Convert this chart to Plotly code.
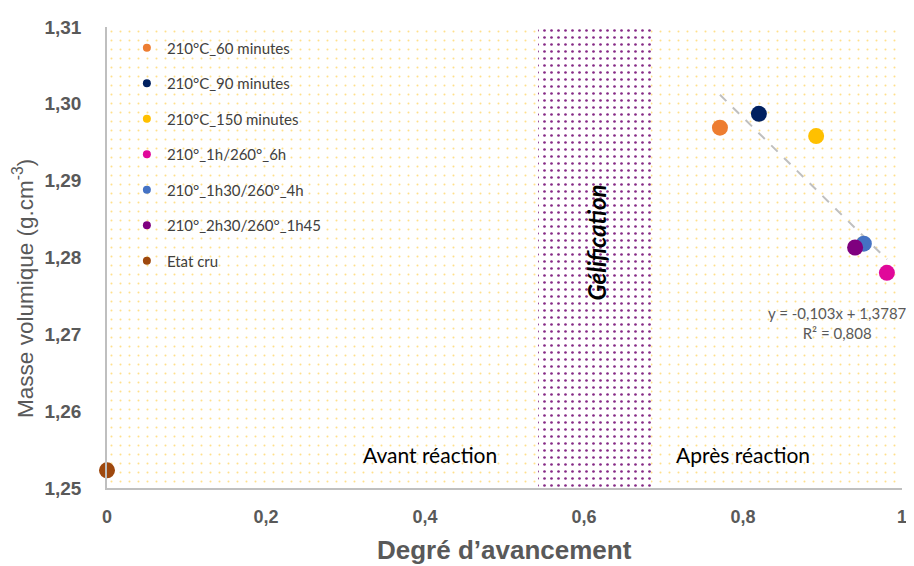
import numpy as np
import plotly.graph_objects as go

# series
names = ["210°C_60 minutes", "210°C_90 minutes", "210°C_150 minutes",
         "210°_1h/260°_6h", "210°_1h30/260°_4h", "210°_2h30/260°_1h45", "Etat cru"]
colors = ["#ed7d31", "#002060", "#ffc000", "#e0089a", "#4472c4", "#7f007f", "#9e480e"]
degre = [0.771, 0.820, 0.892, 0.981, 0.952, 0.941, 0.0]
masse = [1.2969, 1.2987, 1.2958, 1.2780, 1.2818, 1.2813, 1.2523]

x_ticks = [0, 0.2, 0.4, 0.6, 0.8, 1]
y_ticks = [1.25, 1.26, 1.27, 1.28, 1.29, 1.30, 1.31]
gel_zone = [0.542, 0.684]

grey = "#595959"
txt_font = "Lato, 'Open Sans', sans-serif"

fig = go.Figure()

# dotted background of the plot area
fig.add_trace(go.Bar(x=[0.5], width=[1], base=[1.25], y=[0.06],
                     marker=dict(color="rgba(0,0,0,0)", line_width=0,
                                 pattern=dict(shape=".", fgcolor="#ffe08a", bgcolor="white",
                                              size=9, solidity=0.04, fillmode="replace")),
                     showlegend=False, hoverinfo="skip"))
# gelification band
fig.add_trace(go.Bar(x=[(gel_zone[0] + gel_zone[1]) / 2], width=[gel_zone[1] - gel_zone[0]],
                     base=[1.25], y=[0.06],
                     marker=dict(color="rgba(0,0,0,0)", line_width=0,
                                 pattern=dict(shape=".", fgcolor="#862a86", bgcolor="white",
                                              size=7, solidity=0.12, fillmode="replace")),
                     showlegend=False, hoverinfo="skip"))

# linear trend on the post-reaction points
xs = np.array(degre[:6])
ys = np.array(masse[:6])
a, b = np.polyfit(xs, ys, 1)
xl = np.array([xs.min(), xs.max()])
fig.add_trace(go.Scatter(x=xl, y=a * xl + b, mode="lines",
                         line=dict(color="#bfbfbf", width=2, dash="dash"),
                         showlegend=False, hoverinfo="skip"))

for i, n in enumerate(names):
    fig.add_trace(go.Scatter(x=[degre[i]], y=[masse[i]], mode="markers", name=n,
                             marker=dict(color=colors[i], size=16),
                             cliponaxis=False, showlegend=False))
    # small legend marker, like the original
    fig.add_trace(go.Scatter(x=[None], y=[None], mode="markers", name=n, legendgroup=n,
                             marker=dict(color=colors[i], size=8)))

fig.add_annotation(x=0.616, y=1.2819, text="<b><i>Gélification</i></b>", textangle=-90,
                   showarrow=False, font=dict(family=txt_font, size=24, color="black"))
fig.add_annotation(x=0.406, y=1.2544, text="Avant réaction", showarrow=False,
                   font=dict(family=txt_font, size=21, color="black"))
fig.add_annotation(x=0.80, y=1.2544, text="Après réaction", showarrow=False,
                   font=dict(family=txt_font, size=21, color="black"))
fig.add_annotation(x=0.919, y=1.2715,
                   text="y = -0,103x + 1,3787<br>R² = 0,808", showarrow=False,
                   align="center", font=dict(family=txt_font, size=15, color=grey))

# axis titles
fig.add_annotation(xref="paper", yref="paper", x=0.5, y=0, yshift=-62, yanchor="middle",
                   text="<b>Degré d’avancement</b>", showarrow=False,
                   font=dict(family="Arial", size=26, color=grey))
fig.add_annotation(xref="paper", yref="paper", x=0, xshift=-84, y=0.51, yshift=-36,
                   xanchor="center", yanchor="middle",
                   text="Masse volumique (g.cm<sup>-3</sup>)", textangle=-90, showarrow=False,
                   font=dict(family="Arial", size=22.5, color=grey))

# the page body adds an 8px offset, so the figure is 8px smaller than the window
fig.update_layout(
    width=906, height=558,
    margin=dict(l=99, r=12, t=19, b=78),
    plot_bgcolor="white", paper_bgcolor="white",
    separators=", ",
    barmode="overlay", bargap=0,
    legend=dict(x=0.025, y=0.99, xanchor="left", yanchor="top",
                bgcolor="rgba(0,0,0,0)", tracegroupgap=13, itemsizing="trace",
                font=dict(family=txt_font, size=15, color="#404040")),
    xaxis=dict(range=[0, 1], tickvals=x_ticks, tickformat="~g", showgrid=False, zeroline=False,
               showline=True, linecolor="#bfbfbf", linewidth=1.5, ticks="", automargin=False,
               ticklabelstandoff=12,
               tickfont=dict(family="Arial", size=18, color=grey, weight="bold")),
    yaxis=dict(range=[1.25, 1.31], tickvals=y_ticks, tickformat=".2f", showgrid=False,
               zeroline=False, showline=True, linecolor="#bfbfbf", linewidth=1.5, ticks="",
               automargin=False, ticklabelstandoff=20,
               tickfont=dict(family="Arial", size=19, color=grey, weight="bold")),
)

fig.write_html("out.html")
